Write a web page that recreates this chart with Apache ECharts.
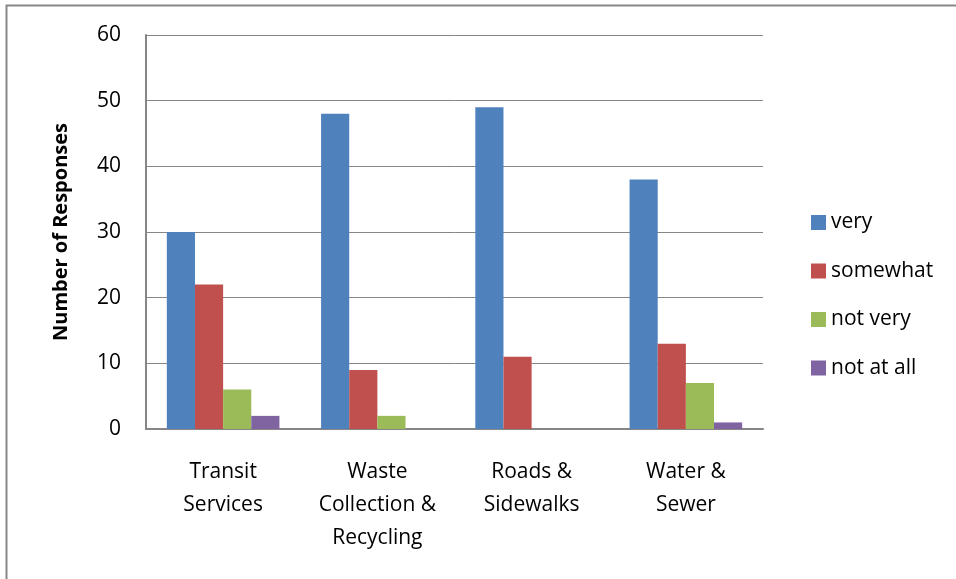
<!DOCTYPE html>
<html>
<head>
<meta charset="utf-8">
<script src="https://cdn.jsdelivr.net/npm/echarts@6/dist/echarts.min.js"></script>
<style>
html,body{margin:0;padding:0;background:#fff;}
#chart{width:956px;height:579px;}
</style>
</head>
<body>
<div id="chart"></div>
<script>
const categories = ["Transit\nServices", "Waste\nCollection &\nRecycling", "Roads &\nSidewalks", "Water &\nSewer"];
const seriesNames = ["very", "somewhat", "not very", "not at all"];
const very = [30, 48, 49, 38];
const somewhat = [22, 9, 11, 13];
const notVery = [6, 2, 0, 7];
const notAtAll = [2, 0, 0, 1];
const yTicks = [0, 10, 20, 30, 40, 50, 60];
const colors = ["#4F81BD", "#C0504D", "#9BBB59", "#8064A2"];

const FONT = "'Open Sans', sans-serif";
const chart = echarts.init(document.getElementById('chart'));
const dataSets = [very, somewhat, notVery, notAtAll];
chart.setOption({
  animation: false,
  color: colors,
  graphic: [{
    type: 'rect', left: 4, top: 3,
    shape: {width: 1100, height: 1100},
    style: {fill: 'none', stroke: '#878787', lineWidth: 2},
    silent: true
  }],
  grid: {left: 146, right: 193, top: 35, bottom: 150},
  legend: {
    orient: 'vertical', left: 806, top: 207,
    itemWidth: 15, itemHeight: 15, itemGap: 27.5, icon: 'rect',
    textStyle: {fontFamily: FONT, fontSize: 21, color: '#000', padding: [0, 0, 0, 0]},
    data: seriesNames
  },
  xAxis: {
    type: 'category', data: categories,
    axisLine: {lineStyle: {color: '#868686', width: 2}},
    axisTick: {show: false},
    axisLabel: {fontFamily: FONT, fontSize: 21, color: '#000', lineHeight: 33, margin: 27, interval: 0}
  },
  yAxis: {
    type: 'value', min: yTicks[0], max: yTicks[yTicks.length - 1], interval: 10,
    name: 'Number of Responses', nameLocation: 'middle', nameGap: 75, nameRotate: 90,
    nameTextStyle: {fontFamily: FONT, fontSize: 20, fontWeight: 'bold', color: '#000'},
    axisLine: {show: true, lineStyle: {color: '#868686', width: 2}},
    axisTick: {show: false},
    splitLine: {lineStyle: {color: '#868686', width: 1}},
    axisLabel: {fontFamily: FONT, fontSize: 21, color: '#000', margin: 25}
  },
  series: seriesNames.map((n, i) => ({
    name: n, type: 'bar', data: dataSets[i],
    barGap: '0%', barCategoryGap: '27%'
  }))
});
</script>
</body>
</html>
